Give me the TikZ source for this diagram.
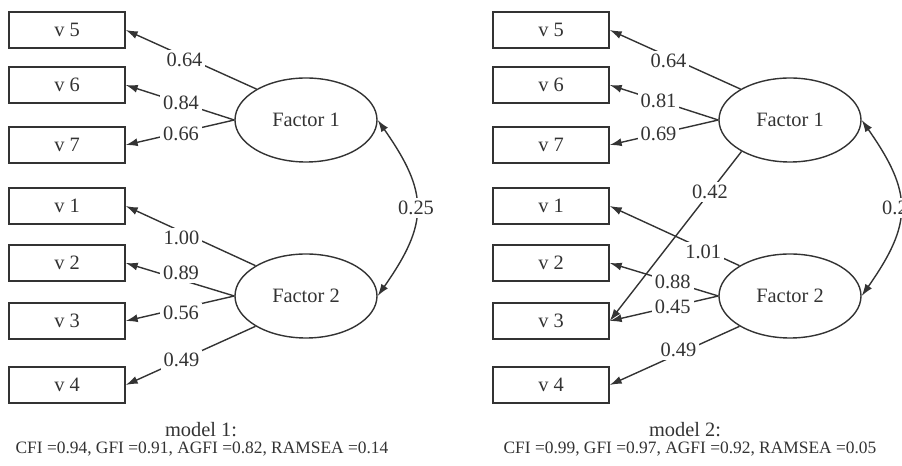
\documentclass[tikz,border=0pt]{standalone}
\usepackage{fontspec}
\setmainfont{Liberation Serif}
\usetikzlibrary{shapes.geometric,arrows.meta}

\begin{document}
\begin{tikzpicture}[x=0.5pt, y=0.5pt, color=black!80, line width=0.7pt,
	font=\fontsize{10.2}{12}\selectfont,
	var/.style={draw, rectangle, minimum width=58pt, minimum height=18pt, inner sep=0pt},
	fac/.style={draw, ellipse, minimum width=71pt, minimum height=42pt, inner sep=0pt},
	lbl/.style={fill=white, inner sep=1.5pt},
	fitline/.style={font=\fontsize{8.7}{10}\selectfont, inner sep=0pt},
	arr/.style={-{Latex[length=6pt,width=4pt]}}]
	\useasboundingbox (0,0) rectangle (902,466);

	% model 1
	\node[var] (av5) at (67,436) {v 5};
	\node[var] (av6) at (67,381) {v 6};
	\node[var] (av7) at (67,321) {v 7};
	\node[var] (av1) at (67,260) {v 1};
	\node[var] (av2) at (67,203) {v 2};
	\node[var] (av3) at (67,145) {v 3};
	\node[var] (av4) at (67,81) {v 4};
	\node[fac] (af1) at (306,346) {Factor 1};
	\node[fac] (af2) at (306,170) {Factor 2};

	\draw[arr] (af1.148) -- node[lbl, pos=0.55, yshift=-1.5pt] {0.64} (av5.east);
	\draw[arr] (af1.west) -- node[lbl, pos=0.49] {0.84} (av6.east);
	\draw[arr] (af1.west) -- node[lbl, pos=0.49, yshift=-1pt] {0.66} (av7.east);
	\draw[arr] (af2.149) -- node[lbl, pos=0.57, yshift=-3pt] {1.00} (av1.east);
	\draw[arr] (af2.west) -- node[lbl, pos=0.49, yshift=3.5pt] {0.89} (av2.east);
	\draw[arr] (af2.west) -- node[lbl, pos=0.49, yshift=-2.5pt] {0.56} (av3.east);
	\draw[arr] (af2.211) -- node[lbl, pos=0.57] {0.49} (av4.east);
	\draw[{Latex[length=6pt,width=4pt]}-{Latex[length=6pt,width=4pt]}] (af1.east) to[out=-55, in=55, looseness=1.3] node[lbl] {0.25} (af2.east);

	\node[inner sep=0pt] (am) at (201,36) {model 1:};
	\node[fitline] (afit) at (202,17) {CFI =0.94, GFI =0.91, AGFI =0.82, RAMSEA =0.14};

	% model 2
	\node[var] (bv5) at (551,436) {v 5};
	\node[var] (bv6) at (551,381) {v 6};
	\node[var] (bv7) at (551,321) {v 7};
	\node[var] (bv1) at (551,260) {v 1};
	\node[var] (bv2) at (551,203) {v 2};
	\node[var] (bv3) at (551,145) {v 3};
	\node[var] (bv4) at (551,81) {v 4};
	\node[fac] (bf1) at (790,346) {Factor 1};
	\node[fac] (bf2) at (790,170) {Factor 2};

	\draw[arr] (bf1.148) -- node[lbl, pos=0.55, yshift=-2pt] {0.64} (bv5.east);
	\draw[arr] (bf1.west) -- node[lbl, pos=0.55] {0.81} (bv6.east);
	\draw[arr] (bf1.west) -- node[lbl, pos=0.55] {0.69} (bv7.east);
	\draw[arr] (bf1.213) -- node[lbl, pos=0.24] {0.42} (bv3.east);
	\draw[arr] (bf2.149) -- node[lbl, pos=0.28, yshift=-1.5pt] {1.01} (bv1.east);
	\draw[arr] (bf2.west) -- node[lbl, pos=0.42] {0.88} (bv2.east);
	\draw[arr] (bf2.west) -- node[lbl, pos=0.42] {0.45} (bv3.east);
	\draw[arr] (bf2.211) -- node[lbl, pos=0.47, yshift=2pt] {0.49} (bv4.east);
	\draw[{Latex[length=6pt,width=4pt]}-{Latex[length=6pt,width=4pt]}] (bf1.east) to[out=-55, in=55, looseness=1.3] node[lbl] {0.25} (bf2.east);

	\node[inner sep=0pt] (bm) at (685,36) {model 2:};
	\node[fitline] (bfit) at (690,17) {CFI =0.99, GFI =0.97, AGFI =0.92, RAMSEA =0.05};
\end{tikzpicture}
\end{document}
